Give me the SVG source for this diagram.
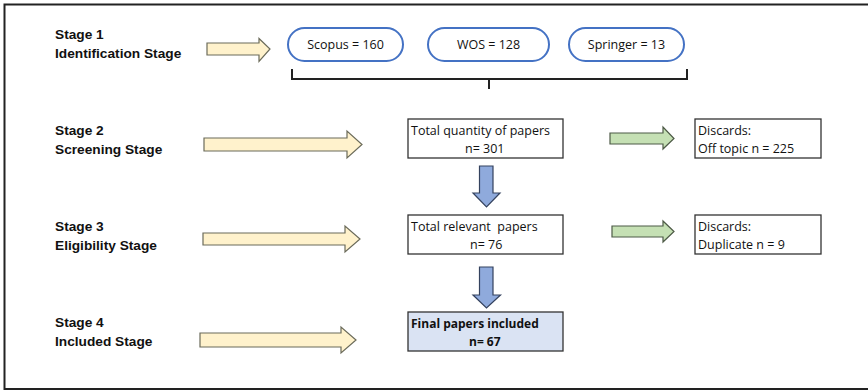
<svg xmlns="http://www.w3.org/2000/svg" width="868" height="391" viewBox="0 0 868 391">
<style>
.stage{font-family:"Liberation Sans",Arial,sans-serif;font-weight:bold;font-size:13.7px;fill:#111}
.t{font-family:"Open Sans","Liberation Sans",sans-serif;font-size:12.5px;fill:#111;white-space:pre}
.tb{font-weight:bold;font-size:12px}
.pill{fill:#fff;stroke:#4472c4;stroke-width:2}
.box{fill:#fff;stroke:#333;stroke-width:1.3}
.yarr{fill:#fff2cc;stroke:#6b6b5a;stroke-width:1.2}
.garr{fill:#c5e0b4;stroke:#4d5a46;stroke-width:1.2}
.barr{fill:#8faadc;stroke:#34425e;stroke-width:1.2}
</style>
<rect x="0" y="0" width="868" height="391" fill="#fff"/>
<g id="frame" fill="none" stroke="#222" stroke-width="2">
<path d="M868,4.5 H4.5 V389 H868"/>
</g>
<g id="labels">
<text class="stage" x="55" y="39">Stage 1</text>
<text class="stage" x="55" y="58">Identification Stage</text>
<text class="stage" x="55" y="135">Stage 2</text>
<text class="stage" x="55" y="154">Screening Stage</text>
<text class="stage" x="55" y="231">Stage 3</text>
<text class="stage" x="55" y="250">Eligibility Stage</text>
<text class="stage" x="55" y="327">Stage 4</text>
<text class="stage" x="55" y="346">Included Stage</text>
</g>
<g id="scopus"><rect class="pill" x="288" y="28" width="115" height="33" rx="16.5"/><text class="t" x="345.5" y="49" text-anchor="middle">Scopus = 160</text></g>
<g id="wos"><rect class="pill" x="428" y="28" width="121" height="33" rx="16.5"/><text class="t" x="488.5" y="49" text-anchor="middle">WOS = 128</text></g>
<g id="springer"><rect class="pill" x="569" y="28" width="115" height="33" rx="16.5"/><text class="t" x="626.5" y="49" text-anchor="middle">Springer = 13</text></g>
<g id="total"><rect class="box" x="408" y="119" width="155" height="39"/><text class="t" x="411" y="135">Total quantity of papers</text><text class="t" x="465" y="153">n= 301</text></g>
<g id="discard1"><rect class="box" x="695" y="119" width="126" height="39"/><text class="t" x="698" y="135">Discards:</text><text class="t" x="698" y="153">Off topic n = 225</text></g>
<g id="relevant"><rect class="box" x="408" y="215" width="155" height="39"/><text class="t" x="411" y="231" xml:space="preserve">Total relevant  papers</text><text class="t" x="470" y="249">n= 76</text></g>
<g id="discard2"><rect class="box" x="695" y="215" width="126" height="39"/><text class="t" x="698" y="231">Discards:</text><text class="t" x="698" y="249">Duplicate n = 9</text></g>
<g id="final"><rect class="box" x="408" y="312" width="155" height="39" style="fill:#dae3f3"/><text class="t tb" x="411" y="328">Final papers included</text><text class="t tb" x="469" y="346">n= 67</text></g>
<g id="connectors">
<path d="M292,69 V79 H687 V69 M489,79 V89" fill="none" stroke="#222" stroke-width="2"/>
<path class="yarr" d="M207,43 H259 V38.5 L270,49 L259,61.5 V55 H207 Z"/>
<path class="yarr" d="M204,138 H347 V131 L362,144.5 L347,158 V151 H204 Z"/>
<path class="yarr" d="M203,233 H345 V226 L360,239 L345,252 V245 H203 Z"/>
<path class="yarr" d="M200,333 H341 V327 L356,340 L341,353 V347 H200 Z"/>
<path class="garr" d="M610,133 H663 V127 L674,138.5 L663,149 V144 H610 Z"/>
<path class="garr" d="M612,226 H663 V221 L674,231.5 L663,242 V237 H612 Z"/>
<path class="barr" d="M479.5,166 H493 V193 H500 L486.5,207 L473,193 H479.5 Z"/>
<path class="barr" d="M479.5,267 H493 V295 H500.5 L486.5,308 L473,295 H479.5 Z"/>
</g>
</svg>
